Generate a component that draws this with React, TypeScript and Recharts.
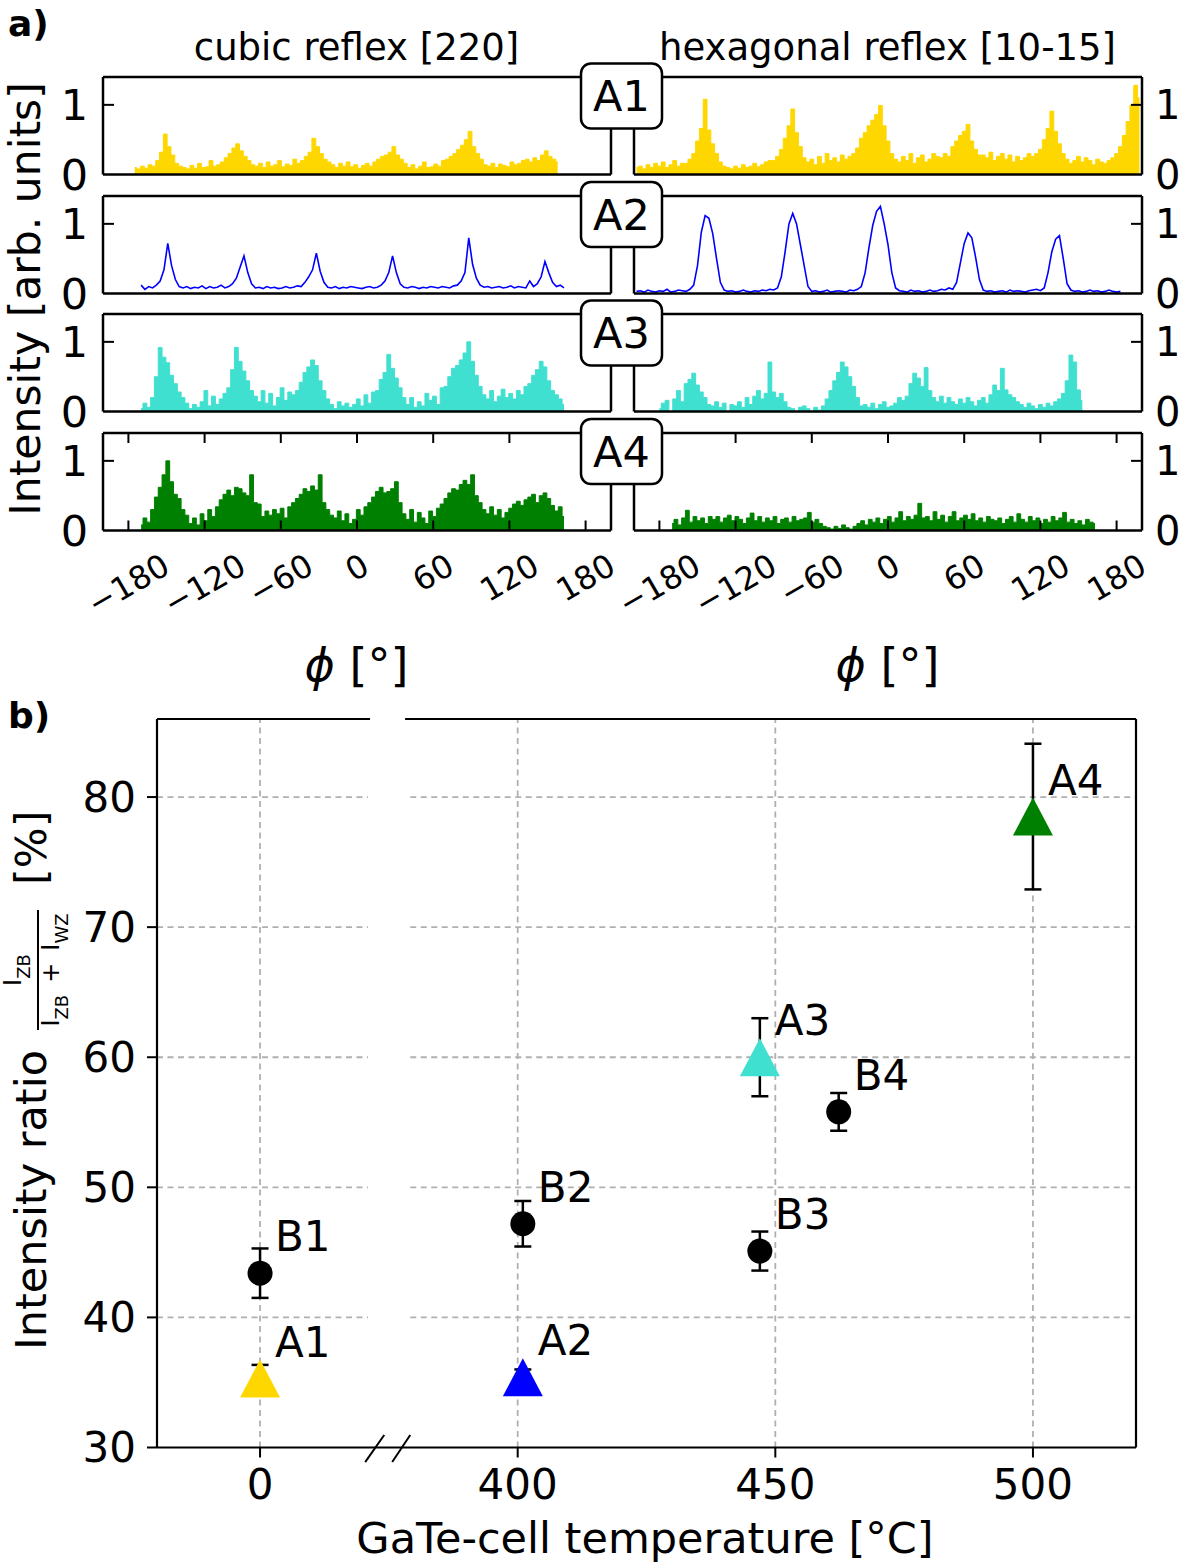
import React from 'react';
import {
  AreaChart,
  Area,
  XAxis,
  YAxis,
  ScatterChart,
  Scatter,
  ErrorBar,
  ReferenceLine,
} from 'recharts';

const FONT = '"DejaVu Sans", sans-serif';

// ---------- a) azimuthal scans: 3 deg bins, intensity in hundredths ----------
const binStep = 3;
const phiTicks = [-180, -120, -60, 0, 60, 120, 180];
const rowNames = ['A1', 'A2', 'A3', 'A4'];
const rowColors = ['#FFD700', '#0000FF', '#40E0D0', '#008000'];

const a1CubicStart = -175;
const a1Cubic = [
  10, 8, 12, 9, 14, 12, 20, 32, 58, 40, 28, 16, 12, 10, 8, 13, 9, 16, 10, 11, 20, 12, 14,
  18, 24, 30, 38, 44, 34, 26, 20, 14, 12, 16, 10, 18, 12, 14, 20, 11, 15, 13, 22, 16,
  20, 26, 32, 52, 40, 30, 22, 18, 14, 10, 16, 12, 18, 11, 14, 9, 13, 16, 12, 18, 22,
  26, 28, 32, 40, 28, 22, 16, 10, 14, 8, 12, 18, 10, 11, 15, 12, 20, 22,
  26, 30, 36, 42, 50, 62, 40, 30, 22, 14, 12, 16, 10, 15, 13, 11, 18, 14, 16,
  20, 22, 18, 24, 20, 28, 34, 26, 22, 18,
];
const a2CubicStart = -170;
const a2Cubic = [
  12, 6, 10, 8, 12, 18, 34, 72, 40, 20, 10, 8, 10, 7, 9, 8, 11, 7, 10, 8, 9, 12, 8, 10,
  14, 22, 38, 54, 30, 14, 8, 9, 7, 10, 8, 9, 7, 8, 10, 8, 9, 11, 10,
  16, 24, 34, 58, 32, 16, 9, 8, 10, 7, 9, 8, 10, 9, 8, 7, 9, 10, 8, 9, 12,
  18, 30, 54, 30, 14, 9, 8, 10, 9, 7, 9, 8, 10, 9, 8, 10, 9, 8, 11, 12,
  18, 30, 80, 42, 22, 12, 9, 10, 8, 9, 10, 8, 9, 11, 8, 10, 9, 8, 18, 10,
  14, 24, 46, 30, 16, 10, 12, 8,
];
const a3CubicStart = -170;
const a3Cubic = [
  4, 12, 6, 20, 50, 92, 78, 70, 52, 40, 28, 20, 12, 4, 10, 6, 14, 30, 8, 22, 10, 18,
  26, 34, 60, 92, 72, 58, 44, 30, 22, 14, 30, 12, 26, 8, 20, 34, 16, 28, 24,
  30, 42, 56, 64, 74, 66, 44, 30, 18, 10, 4, 14, 8, 12, 6, 10, 18, 8, 24, 12, 28,
  30, 46, 56, 82, 62, 48, 34, 20, 10, 20, 6, 14, 8, 26, 16, 22, 10, 34,
  36, 50, 62, 66, 74, 84, 100, 72, 52, 36, 24, 18, 30, 14, 22, 32, 20, 26, 18, 30, 24, 36,
  40, 52, 60, 72, 64, 44, 30, 24, 18, 10,
];
const a4CubicStart = -170;
const a4Cubic = [
  8, 18, 12, 30, 48, 62, 80, 100, 70, 52, 46, 30, 22, 10, 18, 8, 24, 14, 30, 20,
  34, 44, 52, 58, 50, 62, 60, 54, 50, 80, 40, 38, 20, 28, 22, 30, 24, 32, 18, 34,
  40, 46, 52, 60, 56, 64, 58, 80, 40, 30, 22, 18, 28, 14, 24, 10, 16, 30, 22,
  34, 40, 48, 56, 62, 54, 56, 60, 70, 40, 24, 16, 30, 12, 26, 18, 10, 28, 20, 32,
  38, 46, 54, 60, 58, 66, 72, 66, 80, 50, 40, 30, 24, 34, 22, 30, 18, 26, 32,
  38, 42, 36, 44, 48, 52, 40, 50, 54, 46, 36, 28, 34, 20,
];

const a1HexStart = -198;
const a1Hex = [
  10, 12, 8, 14, 10, 16, 12, 18, 10, 14, 20, 12, 16,
  16, 22, 30, 48, 66, 108, 64, 44, 30, 18,
  12, 10, 8, 12, 9, 14, 10, 12, 16, 11, 14, 18, 20,
  20, 26, 36, 52, 70, 94, 60, 40, 24,
  18, 22, 14, 26, 16, 30, 20, 24, 18, 28, 22, 26, 30,
  38, 52, 60, 70, 78, 86, 99, 70, 48, 30,
  22, 18, 26, 20, 30, 16, 24, 28, 18, 22, 30, 26,
  24, 30, 26, 40, 48, 56, 62, 72, 48, 36, 28,
  28, 24, 32, 20, 26, 30, 22, 28, 18, 26, 20, 24, 30,
  26, 30, 36, 50, 66, 91, 62, 44, 30,
  22, 16, 20, 26, 18, 24, 20, 14, 22, 18, 16, 20, 24, 30,
  40, 56, 76, 100, 128, 110,
];
const a2HexStart = -198;
const a2Hex = [
  3, 4, 2, 5, 3, 2, 4, 3, 6, 2, 3, 5, 4, 3,
  6, 12, 40, 88, 112, 108, 86, 50, 16, 5,
  3, 4, 2, 3, 5, 3, 2, 4, 3, 5, 4, 6,
  5, 8, 24, 60, 100, 115, 100, 70, 40, 10,
  3, 4, 2, 3, 5, 2, 3, 4, 3, 2, 5, 4, 6,
  10, 30, 66, 98, 118, 125, 100, 70, 30, 8,
  4, 3, 2, 5, 3, 4, 2, 3, 5, 3, 4, 6, 5, 8,
  6, 16, 44, 72, 87, 80, 52, 20, 5,
  3, 4, 2, 3, 4, 2, 5, 3, 4, 3, 2, 4, 5, 6,
  4, 8, 30, 60, 78, 83, 50, 14, 5,
  3, 4, 2, 3, 5, 3, 4, 2, 3, 5, 3, 2, 3,
];
const a3HexStart = -180;
const a3Hex = [
  4, 12, 16, 0, 18, 30, 14, 40, 46, 55, 38, 28, 20,
  10, 8, 14, 6, 12, 0, 10, 8, 14, 6, 20, 10,
  22, 30, 18, 26, 71, 28, 20, 26, 14, 6, 4, 0, 6, 8, 4, 0, 6, 2, 8,
  18, 30, 44, 56, 71, 64, 50, 36, 20, 8, 10, 6, 12, 4, 10, 14, 6, 8, 12,
  20, 16, 22, 40, 55, 48, 36, 63, 30, 20, 14, 22, 12,
  20, 14, 10, 18, 12, 20, 14, 8, 16, 20, 12,
  24, 38, 30, 62, 31, 24, 20, 14, 10, 6, 12, 8, 4, 10, 6, 12, 8, 14,
  18, 26, 44, 81, 71, 31, 16,
];
const a4HexStart = -170;
const a4Hex = [
  10, 16, 8, 18, 29, 12, 20, 14, 18, 10, 20,
  16, 20, 12, 18, 22, 14, 20, 16, 10, 18, 25, 14, 20, 12,
  18, 14, 20, 10, 16, 18, 12, 20, 14, 16,
  18, 26, 12, 16, 10, 6, 4, 2, 6, 3, 8, 4, 2, 6, 10,
  14, 8, 16, 12, 18, 10, 16, 20, 12, 18, 27, 14, 20, 16, 22, 39, 18,
  20, 14, 27, 16, 22, 12, 20, 27, 14, 18, 22, 16,
  24, 14, 18, 12, 20, 16, 14, 18, 10, 16, 20, 12,
  24, 16, 12, 20, 14, 18, 10, 16, 12, 20, 14, 18,
  26, 12, 16, 10, 14, 8, 16, 12, 10,
];

// ---------- b) intensity ratio vs GaTe-cell temperature ----------
const labelsA = ['A1', 'A2', 'A3', 'A4'];
const tempA = [0, 401, 447, 500];
const ratioA = [35.3, 35.4, 60.0, 78.5];
const errA = [1.05, 0.6, 3.0, 5.6];
const colorsA = ['#FFD700', '#0000FF', '#40E0D0', '#008000'];

const labelsB = ['B1', 'B2', 'B3', 'B4'];
const tempB = [0, 401, 447, 462.3];
const ratioB = [43.4, 47.2, 45.1, 55.8];
const errB = [1.9, 1.75, 1.5, 1.45];

const tempTicks = [0, 400, 450, 500];
const ratioTicks = [30, 40, 50, 60, 70, 80];
const gridRatios = [40, 50, 60, 70, 80];

// broken temperature axis: 0 sits on its own, 400..500 share one scale (50 degC per unit)
const toPos = (t: number) => (t < 200 ? t / 50 : 1 + (t - 400) / 50);

const series = (start: number, vals: number[]) =>
  vals.map((v, i) => ({ phi: start + i * binStep, v: v / 100 }));

const rows = [
  [series(a1CubicStart, a1Cubic), series(a1HexStart, a1Hex)],
  [series(a2CubicStart, a2Cubic), series(a2HexStart, a2Hex)],
  [series(a3CubicStart, a3Cubic), series(a3HexStart, a3Hex)],
  [series(a4CubicStart, a4Cubic), series(a4HexStart, a4Hex)],
];

const pointsA = labelsA.map((name, i) => ({
  name, kind: 'A', color: colorsA[i], pos: toPos(tempA[i]), ratio: ratioA[i], err: errA[i],
}));
const pointsB = labelsB.map((name, i) => ({
  name, kind: 'B', color: '#000', pos: toPos(tempB[i]), ratio: ratioB[i], err: errB[i],
}));

// layout of panel a)
const rowTops = [77, 195.5, 314, 432.5];
const rowH = 97.5;
const panelW = 508;
const panelLefts = [102.5, 633.5];
const spine = { stroke: '#000', strokeWidth: 2.5 };
const AX = 1; // thickness reserved by each axis (taken back from the margins)

const phiLabel = (v: number) => (v < 0 ? '\u2212' + Math.abs(v) : String(v));

// bottom-row tick: inward marks on bottom and top spines plus the rotated label
function PhiBottomTick({ x, y, payload }: any) {
  const s = phiLabel(payload.value);
  let w = 0;
  for (const c of s) w += c === '\u2212' ? 0.838 : 0.636;
  const cy = y + 22 + (w * 32 * 0.5 + 20) / 2;
  return (
    <g>
      <line x1={x} x2={x} y1={y} y2={y - 10} stroke="#000" strokeWidth={2} />
      <line x1={x} x2={x} y1={y - rowH} y2={y - rowH + 10} stroke="#000" strokeWidth={2} />
      <text
        x={x}
        y={cy}
        textAnchor="middle"
        dominantBaseline="central"
        fontSize={32}
        fontFamily={FONT}
        fill="#000"
        transform={`rotate(-30 ${x} ${cy})`}
      >
        {s}
      </text>
    </g>
  );
}

const NoTick = () => <g />;

function makeYTick(side: 'left' | 'right', show: boolean) {
  return ({ x, y, payload }: any) => {
    if (!show) return <g />;
    const dir = side === 'left' ? 1 : -1;
    return (
      <g>
        {payload.value !== 0 && (
          <line x1={x} x2={x + dir * 11} y1={y} y2={y} stroke="#000" strokeWidth={2} />
        )}
        <text
          x={side === 'left' ? x - 15 : x + 13}
          y={y}
          textAnchor={side === 'left' ? 'end' : 'start'}
          dominantBaseline="central"
          fontSize={side === 'left' ? 43 : 40}
          fontFamily={FONT}
          fill="#000"
        >
          {payload.value}
        </text>
      </g>
    );
  };
}

function Panel({ data, color, row, col }: { data: any[]; color: string; row: number; col: number }) {
  const outer = { top: 12, right: 70, bottom: 110, left: 70 };
  const m = {
    top: outer.top - AX,
    right: outer.right - AX,
    bottom: outer.bottom - AX,
    left: outer.left - AX,
  };
  const isLine = row === 1;
  const last = row === 3;
  return (
    <div style={{ position: 'absolute', left: panelLefts[col] - outer.left, top: rowTops[row] - outer.top }}>
      <AreaChart
        width={panelW + outer.left + outer.right}
        height={rowH + outer.top + outer.bottom}
        data={data}
        margin={m}
      >
        <XAxis
          xAxisId="b"
          type="number"
          dataKey="phi"
          domain={[-200, 200]}
          ticks={phiTicks}
          interval={0}
          height={AX}
          axisLine={spine}
          tickLine={false}
          tickSize={0}
          tickMargin={0}
          tick={last ? PhiBottomTick : NoTick}
          allowDataOverflow
        />
        <XAxis
          xAxisId="t"
          orientation="top"
          type="number"
          domain={[-200, 200]}
          height={AX}
          axisLine={spine}
          tickLine={false}
          tick={NoTick}
          allowDataOverflow
        />
        <YAxis
          yAxisId="l"
          type="number"
          domain={[0, 1.4]}
          ticks={[0, 1]}
          interval={0}
          width={AX}
          axisLine={spine}
          tickLine={false}
          tickSize={0}
          tickMargin={0}
          tick={makeYTick('left', col === 0)}
          allowDataOverflow
        />
        <YAxis
          yAxisId="r"
          orientation="right"
          type="number"
          domain={[0, 1.4]}
          ticks={[0, 1]}
          interval={0}
          width={AX}
          axisLine={spine}
          tickLine={false}
          tickSize={0}
          tickMargin={0}
          tick={makeYTick('right', col === 1)}
          allowDataOverflow
        />
        <Area
          xAxisId="b"
          yAxisId="l"
          type={isLine ? 'linear' : 'step'}
          dataKey="v"
          stroke={color}
          strokeWidth={isLine ? 1.6 : 1}
          fill={isLine ? 'none' : color}
          fillOpacity={1}
          dot={false}
          activeDot={false}
          isAnimationActive={false}
        />
      </AreaChart>
    </div>
  );
}

function Marker(props: any) {
  const { cx, cy, payload } = props;
  return (
    <g>
      {payload.kind === 'A' ? (
        <polygon
          points={`${cx},${cy - 19} ${cx - 20},${cy + 19} ${cx + 20},${cy + 19}`}
          fill={payload.color}
        />
      ) : (
        <circle cx={cx} cy={cy} r={12.5} fill="#000" />
      )}
      <text x={cx + 15} y={cy - 22} fontSize={42} fontFamily={FONT} fill="#000">
        {payload.name}
      </text>
    </g>
  );
}

function RatioChart() {
  const outer = { top: 12, right: 30, bottom: 80, left: 90 };
  const m = { top: outer.top, right: outer.right - AX, bottom: outer.bottom - AX, left: outer.left - AX };
  const plotW = 979;
  const plotH = 728.5;
  const tickPos = tempTicks.map(toPos);
  const xMin = -0.4;
  const xMax = 3.4;
  const gapL = 0.419;
  const gapR = 0.583;
  const grid = { stroke: '#b0b0b0', strokeWidth: 1.8, strokeDasharray: '6 4.5' };
  const frame = { stroke: '#000', strokeWidth: 2.2 };
  return (
    <div style={{ position: 'absolute', left: 157 - outer.left, top: 719 - outer.top }}>
      <ScatterChart width={plotW + outer.left + outer.right} height={plotH + outer.top + outer.bottom} margin={m}>
        {tickPos.map((p) => (
          <ReferenceLine key={'v' + p} xAxisId="b" yAxisId="l" x={p} {...grid} />
        ))}
        {gridRatios.map((r) => (
          <ReferenceLine
            key={'hl' + r}
            xAxisId="b"
            yAxisId="l"
            segment={[{ x: xMin, y: r }, { x: gapL, y: r }]}
            {...grid}
          />
        ))}
        {gridRatios.map((r) => (
          <ReferenceLine
            key={'hr' + r}
            xAxisId="b"
            yAxisId="l"
            segment={[{ x: gapR, y: r }, { x: xMax, y: r }]}
            {...grid}
          />
        ))}
        <XAxis
          xAxisId="b"
          type="number"
          dataKey="pos"
          domain={[xMin, xMax]}
          ticks={tickPos}
          interval={0}
          tickFormatter={(v: number) => String(tempTicks[tickPos.indexOf(v)])}
          height={AX}
          axisLine={frame}
          tickLine={{ stroke: '#000', strokeWidth: 2 }}
          tickSize={10}
          tickMargin={12}
          tick={{ fontSize: 42, fill: '#000', fontFamily: FONT }}
          allowDataOverflow
        />
        <YAxis
          yAxisId="l"
          type="number"
          dataKey="ratio"
          domain={[30, 86]}
          ticks={ratioTicks}
          interval={0}
          width={AX}
          axisLine={frame}
          tickLine={{ stroke: '#000', strokeWidth: 2 }}
          tickSize={10}
          tickMargin={11}
          tick={{ fontSize: 42, fill: '#000', fontFamily: FONT }}
          allowDataOverflow
        />
        <YAxis
          yAxisId="r"
          orientation="right"
          type="number"
          domain={[30, 86]}
          width={AX}
          axisLine={frame}
          tickLine={false}
          tick={NoTick}
          allowDataOverflow
        />
        <ReferenceLine
          xAxisId="b"
          yAxisId="l"
          segment={[{ x: xMin, y: 86 }, { x: 0.427, y: 86 }]}
          ifOverflow="visible"
          {...frame}
        />
        <ReferenceLine
          xAxisId="b"
          yAxisId="l"
          segment={[{ x: 0.563, y: 86 }, { x: xMax, y: 86 }]}
          ifOverflow="visible"
          {...frame}
        />
        <ReferenceLine
          xAxisId="b"
          yAxisId="l"
          segment={[{ x: 0.408, y: 28.88 }, { x: 0.482, y: 30.96 }]}
          ifOverflow="visible"
          stroke="#000"
          strokeWidth={2}
        />
        <ReferenceLine
          xAxisId="b"
          yAxisId="l"
          segment={[{ x: 0.513, y: 28.88 }, { x: 0.583, y: 30.96 }]}
          ifOverflow="visible"
          stroke="#000"
          strokeWidth={2}
        />
        <Scatter xAxisId="b" yAxisId="l" data={pointsB} shape={Marker} isAnimationActive={false}>
          <ErrorBar dataKey="err" direction="y" width={8.5} strokeWidth={2.5} stroke="#000" />
        </Scatter>
        <Scatter xAxisId="b" yAxisId="l" data={pointsA} shape={Marker} isAnimationActive={false}>
          <ErrorBar dataKey="err" direction="y" width={8.5} strokeWidth={2.5} stroke="#000" />
        </Scatter>
      </ScatterChart>
    </div>
  );
}

export default function App() {
  return (
    <div
      style={{
        position: 'absolute',
        left: 0,
        top: 0,
        width: 1181,
        height: 1567,
        background: '#fff',
        fontFamily: FONT,
        overflow: 'hidden',
      }}
    >
      {rows.map((pair, r) =>
        pair.map((data, c) => (
          <Panel key={`${r}-${c}`} data={data} color={rowColors[r]} row={r} col={c} />
        )),
      )}
      <RatioChart />
      <svg
        width={1181}
        height={1567}
        style={{ position: 'absolute', left: 0, top: 0, pointerEvents: 'none' }}
        fontFamily={FONT}
        fill="#000"
      >
        <text x={8} y={36} fontSize={36} fontWeight="bold">a)</text>
        <text x={8} y={728} fontSize={36} fontWeight="bold">b)</text>
        <text x={356.5} y={60} fontSize={37} textAnchor="middle">cubic reflex [220]</text>
        <text x={887.5} y={60} fontSize={37} textAnchor="middle">hexagonal reflex [10-15]</text>
        <text transform="translate(40 299) rotate(-90)" textAnchor="middle" fontSize={42.5}>
          Intensity [arb. units]
        </text>
        {rowTops.map((t, i) => (
          <g key={rowNames[i]}>
            <rect x={581} y={t - 13.5} width={81} height={65} rx={10} fill="#fff" stroke="#000" strokeWidth={2.5} />
            <text x={621.5} y={t + 19} textAnchor="middle" dominantBaseline="central" fontSize={43}>
              {rowNames[i]}
            </text>
          </g>
        ))}
        {[356.5, 887.5].map((cx) => (
          <text key={cx} x={cx} y={681} textAnchor="middle" fontSize={46}>
            <tspan fontStyle="italic">ϕ</tspan> [°]
          </text>
        ))}
        <text x={645} y={1553} textAnchor="middle" fontSize={43}>GaTe-cell temperature [°C]</text>
        <g transform="translate(40 1083) rotate(-90)">
          <text x={-267} y={6} fontSize={43}>Intensity ratio</text>
          <line x1={53} x2={173} y1={-2} y2={-2} stroke="#000" strokeWidth={2} />
          <text x={113} y={-19} fontSize={24} textAnchor="middle">
            I<tspan fontSize={18} dy={9}>ZB</tspan>
          </text>
          <text x={113} y={19} fontSize={24} textAnchor="middle">
            I<tspan fontSize={18} dy={9}>ZB</tspan>
            <tspan dx={12} dy={-9}>+</tspan>
            <tspan dx={12}>I</tspan>
            <tspan fontSize={18} dy={9}>WZ</tspan>
          </text>
          <text x={198} y={6} fontSize={43}>[%]</text>
        </g>
      </svg>
    </div>
  );
}
